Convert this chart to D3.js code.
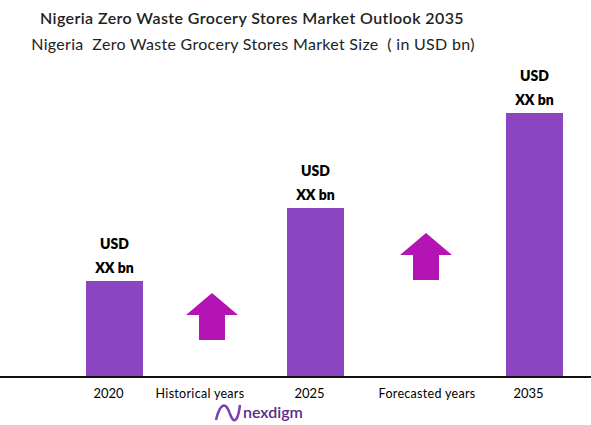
<!DOCTYPE html><html><head><meta charset="utf-8"><script src="https://cdn.jsdelivr.net/npm/d3@7"></script>
<style>body{margin:0;background:#fff}</style></head><body><svg id="c" width="591" height="425"></svg>
<script>
const years=["2020","2025","2035"];
const values=[96,169,264];
const valueLabels=["XX bn","XX bn","XX bn"];
const periodLabels=["Historical years","Forecasted years"];
const svg=d3.select("#c");
const F="Lato, 'Open Sans', sans-serif";
const x=d3.scalePoint().domain(years).range([114.5,534.5]);
const pos={"2020":114.5,"2025":315.5,"2035":534.5};
const y=d3.scaleLinear().domain([0,264]).range([377,113]);
svg.append("text").attr("x",252).attr("y",24).attr("text-anchor","middle").attr("font-family",F).attr("font-size",16).attr("letter-spacing",0.4).attr("font-weight",600).attr("fill","#222").text("Nigeria Zero Waste Grocery Stores Market Outlook 2035");
svg.append("text").attr("x",253).attr("y",50).attr("text-anchor","middle").attr("font-family",F).attr("font-size",16).attr("letter-spacing",0.3).attr("fill","#222").attr("xml:space","preserve").text("Nigeria  Zero Waste Grocery Stores Market Size  ( in USD bn)");
years.forEach((yr,i)=>{
 const cx=pos[yr];
 svg.append("rect").attr("x",cx-28.5).attr("width",57).attr("y",y(values[i])).attr("height",y(0)-y(values[i])).attr("fill","#8b45c0");
 svg.append("text").attr("x",cx).attr("y",y(values[i])-32).attr("text-anchor","middle").attr("font-family",F).attr("font-weight",800).attr("font-size",14).text("USD");
 svg.append("text").attr("x",cx).attr("y",y(values[i])-8).attr("text-anchor","middle").attr("font-family",F).attr("font-weight",800).attr("font-size",14).text(valueLabels[i]);
 svg.append("text").attr("x",cx-6).attr("y",398).attr("text-anchor","middle").attr("font-family",F).attr("font-size",13).text(yr);
});
svg.append("line").attr("x1",0).attr("x2",591).attr("y1",377).attr("y2",377).attr("stroke","#111").attr("stroke-width",2);
[[200,periodLabels[0]],[427,periodLabels[1]]].forEach(([px,t])=>svg.append("text").attr("x",px).attr("y",398).attr("text-anchor","middle").attr("font-family",F).attr("font-size",12.5).attr("letter-spacing",0.3).text(t));
function arrow(cx,top,bot){
 const hw=26,sw=13,hh=22;
 svg.append("path").attr("d",`M${cx},${top} L${cx+hw},${top+hh} L${cx+sw},${top+hh} L${cx+sw},${bot} L${cx-sw},${bot} L${cx-sw},${top+hh} L${cx-hw},${top+hh} Z`).attr("fill","#b414b4");
}
arrow(212,293,340);arrow(426,233,280);
svg.append("path").attr("d","M216,420 C220,403 226,401 230,414 C234,425 238,421 240,405").attr("fill","none").attr("stroke","#7b3fb0").attr("stroke-width",2.5);
svg.append("text").attr("x",243).attr("y",418).attr("font-family",F).attr("font-size",16).attr("font-weight",600).attr("fill","#5a2a8a").text("nexdigm");
</script></body></html>
